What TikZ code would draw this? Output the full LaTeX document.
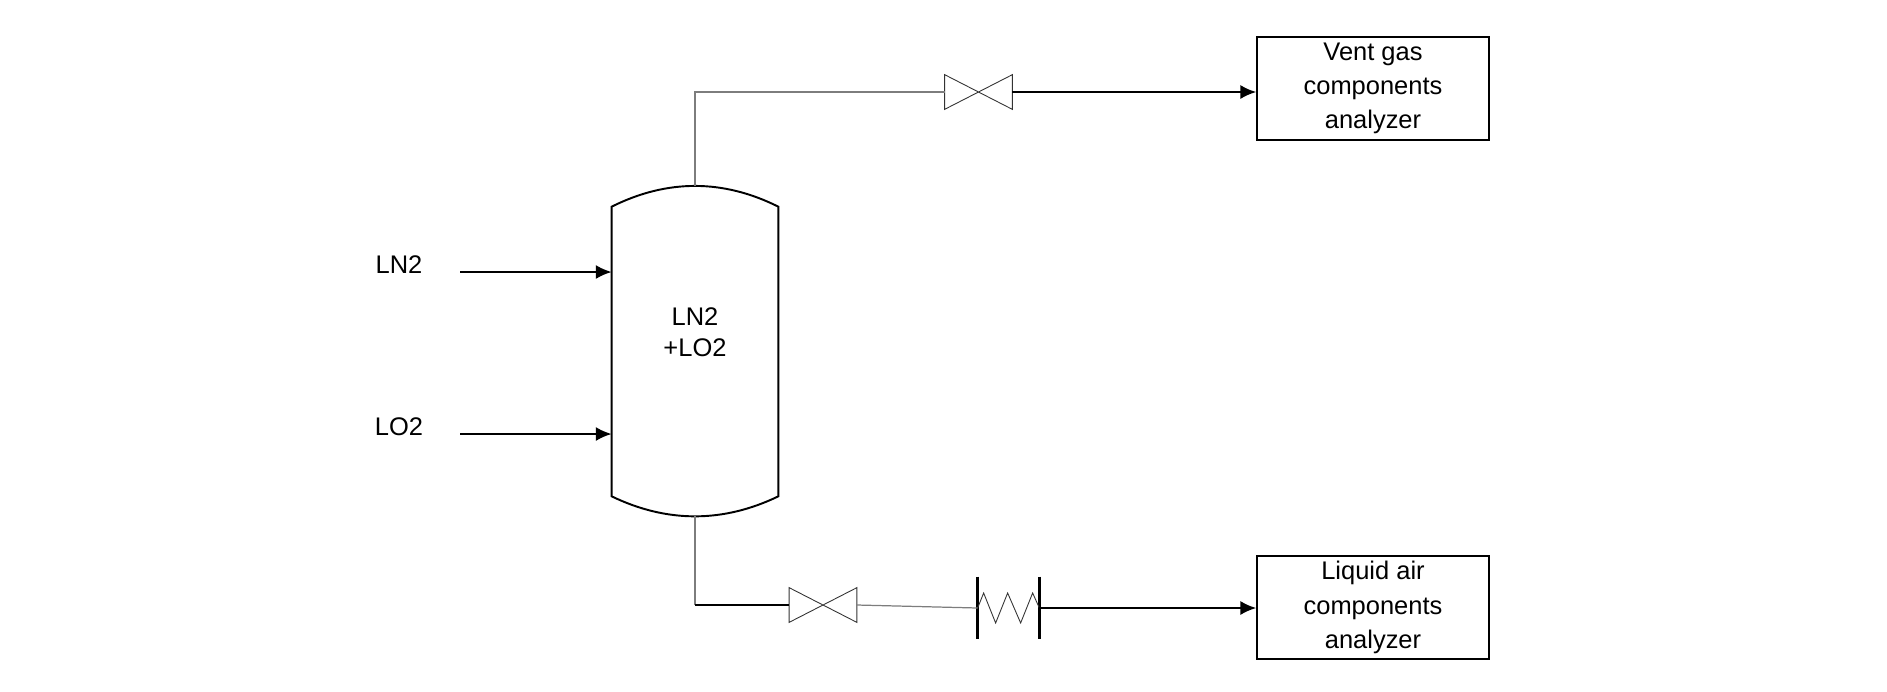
\documentclass[tikz,border=0pt]{standalone}
\usepackage{fontspec}
\setmainfont{Liberation Sans}
\usepackage{xcolor}
\usetikzlibrary{calc,positioning,arrows.meta}
\definecolor{pipegray}{RGB}{125,125,125}
\begin{document}
\begin{tikzpicture}[x=0.02cm,y=-0.02cm,
	font=\fontsize{14.5}{19.5}\selectfont,
	flow/.style={-{Latex[length=9pt,width=8pt]},line width=1.2pt,black},
	pipe/.style={line width=0.9pt,pipegray},
	valve/.style={inner sep=0pt,minimum width=1.34cm,minimum height=0.68cm},
	analyzer/.style={draw,line width=0.9pt,minimum width=4.64cm,minimum height=2.06cm,align=center,inner sep=0pt}]
	\useasboundingbox (0,0) rectangle (1887,691);
	% vessel
	\node[inner sep=0pt,minimum width=3.32cm,minimum height=5.78cm] (tank) at (695,351.5) {};
	\coordinate (tanktop) at (695,186);
	\coordinate (tankbot) at (695,516);
	\draw[line width=1.1pt] (tank.north west) .. controls (667,179) and (723,179) .. (tank.north east)
		-- (tank.south east) .. controls (723,523) and (667,523) .. (tank.south west) -- cycle;
	\node[align=center,font=\fontsize{14.5}{17.5}\selectfont] (mix) at (695,332) {LN2\\+LO2};
	% feeds
	\node (ln2) at (399,265) {LN2};
	\node (lo2) at (399,427) {LO2};
	\coordinate (ln2in) at (460,272);
	\coordinate (lo2in) at (460,434);
	\draw[flow] (ln2in) -- (ln2in -| tank.west);
	\draw[flow] (lo2in) -- (lo2in -| tank.west);
	% valves and exchanger
	\node[valve] (vtop) at (978.5,92) {};
	\node[valve] (vbot) at (823,605) {};
	\node[inner sep=0pt,minimum width=1.22cm,minimum height=1.24cm] (hx) at (1008.5,608) {};
	\draw[line width=0.5pt,black!80] (vtop.north west) -- (vtop.south east) -- (vtop.north east) -- (vtop.south west) -- cycle;
	\draw[line width=0.5pt,black!80] (vbot.north west) -- (vbot.south east) -- (vbot.north east) -- (vbot.south west) -- cycle;
	\draw[line width=1.7pt] (hx.north west) -- (hx.south west);
	\draw[line width=1.7pt] (hx.north east) -- (hx.south east);
	\draw[line width=0.5pt,black!80] (hx.west) -- ++(6,-15) -- ++(12,30) -- ++(12,-30) -- ++(13,30) -- ++(12,-30) -- (hx.east);
	% analyzers
	\node[analyzer] (vent) at (1373,88.5) {Vent gas\\components\\analyzer};
	\node[analyzer] (liq) at (1373,607.5) {Liquid air\\components\\analyzer};
	% lines
	\draw[pipe] (tanktop) |- (vtop.west);
	\draw[pipe] (tankbot) -- (tankbot |- vbot.west);
	\draw[line width=0.7pt] (tankbot |- vbot.west) -- (vbot.west);
	\draw[line width=0.7pt,pipegray] (vbot.east) -- (hx.west);
	\draw[flow] (vtop.east) -- (vtop.east -| vent.west);
	\draw[flow] (hx.east) -- (hx.east -| liq.west);
\end{tikzpicture}
\end{document}
